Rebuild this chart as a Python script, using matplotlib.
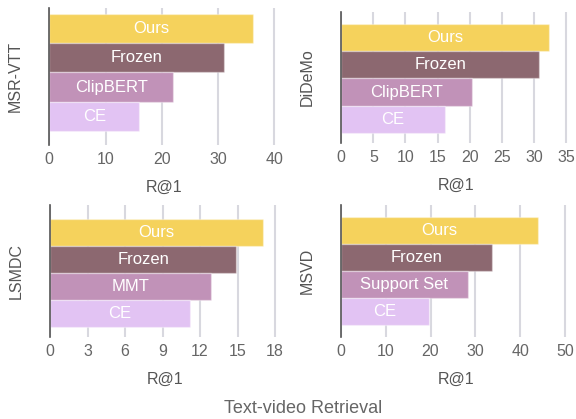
import matplotlib
matplotlib.use("Agg")
import matplotlib.pyplot as plt
from matplotlib.ticker import MultipleLocator

plt.rcParams['font.family'] = ['Liberation Sans', 'DejaVu Sans']

datasets = ["MSR-VTT", "DiDeMo", "LSMDC", "MSVD"]
methods = [
    ["Ours", "Frozen", "ClipBERT", "CE"],
    ["Ours", "Frozen", "ClipBERT", "CE"],
    ["Ours", "Frozen", "MMT", "CE"],
    ["Ours", "Frozen", "Support Set", "CE"],
]
r_at_1 = [
    [36.2, 31.0, 22.0, 16.0],
    [32.3, 30.8, 20.4, 16.1],
    [17.0, 14.9, 12.9, 11.2],
    [43.9, 33.6, 28.3, 19.7],
]
tick_steps = [10, 5, 3, 10]
x_max = [40.9, 35.8, 18.4, 51.2]
colors = ["#F5D25C", "#8C6870", "#C192B8", "#E2C3F3"]

W, H = 576, 419
fig = plt.figure(figsize=(W / 100, H / 100), dpi=100)

# axes boxes in pixels: left, top, bottom ; ylim margins (top, bottom) in bar units
boxes = [
    (49.3, 8, 145, 0.2, 0.48),
    (341.2, 12, 143, 0.44, 0.37),
    (50.0, 205, 337, 0.52, 0.37),
    (340.7, 205, 337, 0.44, 0.44),
]
width_px = 230

for i, (left, top, bot, mt, mb) in enumerate(boxes):
    ax = fig.add_axes([left / W, (H - bot) / H, width_px / W, (bot - top) / H])
    vals = r_at_1[i]
    labs = methods[i]
    pos = list(range(len(vals)))
    bars = ax.barh(pos, vals, height=1.0, color=colors,
                   edgecolor=(1, 1, 1, 0.35), linewidth=1.0, zorder=2)
    for b, lab in zip(bars, labs):
        ax.text(b.get_width() / 2, b.get_y() + b.get_height() / 2, lab,
                ha="center", va="center", color="white", fontsize=12, zorder=3)
    ax.set_ylim(len(vals) - 0.5 + mb, -0.5 - mt)
    ax.set_xlim(0, x_max[i])
    ax.xaxis.set_major_locator(MultipleLocator(tick_steps[i]))
    ax.set_yticks([])
    ax.grid(axis="x", color="#D8D8DF", linewidth=1.5, zorder=0)
    ax.set_axisbelow(True)
    for s in ["top", "right", "bottom"]:
        ax.spines[s].set_visible(False)
    ax.spines["left"].set_color("#555555")
    ax.spines["left"].set_linewidth(1.2)
    ax.spines["left"].set_zorder(4)
    ax.tick_params(axis="x", length=0, pad=5, labelsize=11.5, labelcolor="#666666")
    ax.set_xlabel("R@1", fontsize=11.5, color="#555555", labelpad=9)
    ax.set_ylabel(datasets[i], fontsize=11.5, color="#555555", labelpad=19)

fig.text(303 / W, 1 - 408 / H, "Text-video Retrieval", ha="center", va="center",
         fontsize=13, color="#666666")

fig.savefig("out.png", dpi=100)
